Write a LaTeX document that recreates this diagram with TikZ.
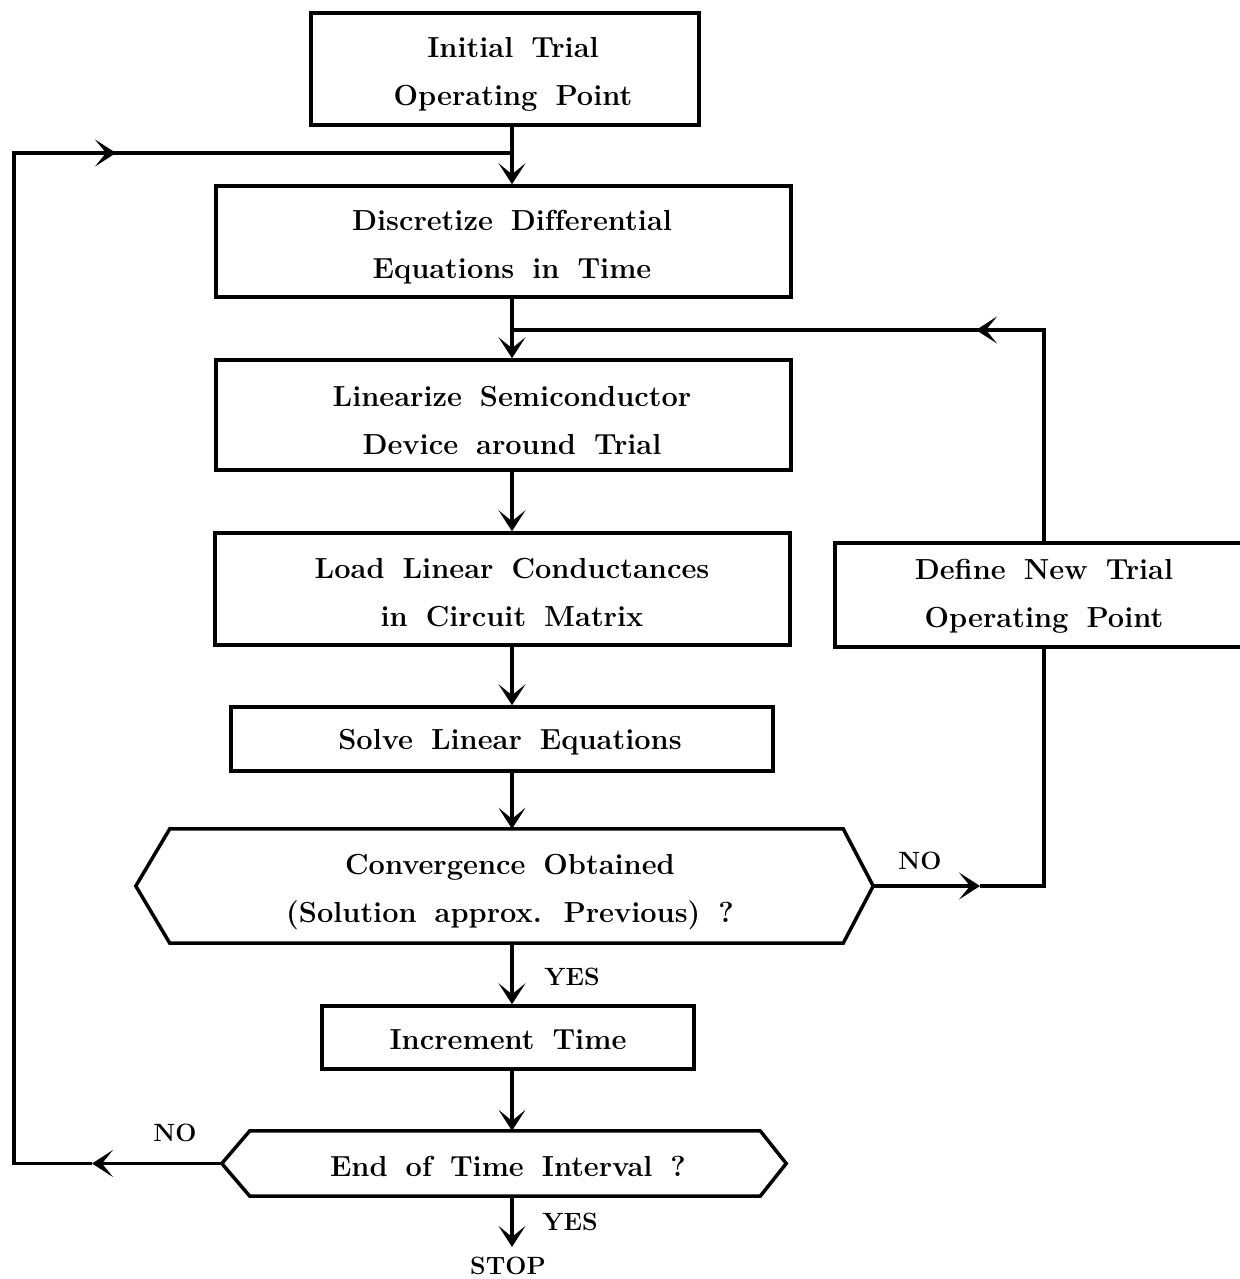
\documentclass[tikz,border=0pt]{standalone}
\usetikzlibrary{arrows.meta,shapes.geometric}
\newcommand\mainfnt{\fontsize{29}{48}\selectfont\bfseries\spaceskip=18pt plus 2pt minus 2pt\relax}
\newcommand\labfnt{\fontsize{25}{30}\selectfont\bfseries}
\tikzset{
  box/.style={draw, line width=3.5pt, inner sep=0pt},
  hexbox/.style={inner sep=0pt},
  txt/.style={align=center, inner sep=0pt, font=\mainfnt},
  conn/.style={line width=3.5pt},
  arr/.style={-{Stealth[length=21pt,width=27pt,inset=11pt,line width=2pt]}},
  lab/.style={font=\labfnt, inner sep=0pt},
}
\begin{document}
\begin{tikzpicture}[x=1pt,y=-1pt]
\fill[white] (0,0) rectangle (1239,1279);
\useasboundingbox (0,0) rectangle (1239,1279);

% shapes
\node[box, minimum width=388pt, minimum height=112pt] (init) at (505,69) {};
\node[box, minimum width=575pt, minimum height=111pt] (disc) at (503.5,241.5) {};
\node[box, minimum width=575pt, minimum height=110pt] (lin) at (503.5,415) {};
\node[box, minimum width=575pt, minimum height=112pt] (load) at (502.5,589) {};
\node[box, minimum width=542pt, minimum height=64pt] (solve) at (502,739) {};
\node[hexbox, minimum width=737pt, minimum height=114pt] (conv) at (504.5,886) {};
\draw[conn, line join=miter] ([xshift=34pt]conv.north west) -- ([xshift=-30pt]conv.north east) -- (conv.east)
  -- ([xshift=-30pt]conv.south east) -- ([xshift=34pt]conv.south west) -- (conv.west) -- cycle;
\node[box, minimum width=372pt, minimum height=63pt] (incr) at (508,1037.5) {};
\node[hexbox, minimum width=564pt, minimum height=65pt] (endq) at (504,1163.5) {};
\draw[conn, line join=miter] ([xshift=28pt]endq.north west) -- ([xshift=-26pt]endq.north east) -- (endq.east)
  -- ([xshift=-26pt]endq.south east) -- ([xshift=28pt]endq.south west) -- (endq.west) -- cycle;
\node[box, minimum width=418pt, minimum height=104pt] (def) at (1044,595) {};

% texts
\node[txt] (initT) at (513,74) {Initial Trial\\Operating Point};
\node[txt] (discT) at (512,247) {Discretize Dif\kern0pt ferential\\Equations in Time};
\node[txt] (linT) at (512,420) {Linearize Semiconductor\\Device around Trial};
\node[txt] (loadT) at (512,593) {Load Linear Conductances\\in Circuit Matrix};
\node[txt] (solveT) at (510,742) {Solve Linear Equations};
\node[txt] (convT) at (510,892) {Convergence Obtained\\(Solution approx. Previous) ?};
\node[txt] (incrT) at (508,1040) {Increment Time};
\node[txt] (endT) at (508,1166) {End of Time Interval ?};
\node[txt] (defT) at (1044,596) {Define New Trial\\Operating Point};

\node[lab] (stop) at (508,1266) {STOP};
\node[lab] (no1) at (920,861) {NO};
\node[lab] (no2) at (175,1133) {NO};
\node[lab] (yes1) at (572,977) {YES};
\node[lab] (yes2) at (570,1222) {YES};

\coordinate (vx) at (512,0);
\draw[conn,arr] (vx |- init.south) -- (vx |- disc.north);
\draw[conn,arr] (vx |- disc.south) -- (vx |- lin.north);
\draw[conn,arr] (vx |- lin.south) -- (vx |- load.north);
\draw[conn,arr] (vx |- load.south) -- (vx |- solve.north);
\draw[conn,arr] (vx |- solve.south) -- (vx |- conv.north);
\draw[conn,arr] (vx |- conv.south) -- (vx |- incr.north);
\draw[conn,arr] (vx |- incr.south) -- (vx |- endq.north);
\draw[conn,arr,shorten >=10pt] (vx |- endq.south) -- (vx |- stop.north);

% left loop
\coordinate (lb) at (14,1163.5);
\coordinate (lt) at (14,153);
\coordinate (la) at (92,1163.5);
\coordinate (lc) at (116,153);
\draw[conn,arr] (endq.west) -- (la);
\draw[conn,line join=miter] (la) -- (lb) -- (lt) -- (lc);
\draw[conn,arr] (lt) -- (lc);
\draw[conn] (lc) -- (vx |- lt);

% right loop
\coordinate (rb) at (1044,886);
\coordinate (rt) at (1044,330);
\coordinate (ra) at (980,886);
\coordinate (rc) at (976,330);
\draw[conn,arr] (conv.east) -- (ra);
\draw[conn,line join=miter] (ra) -- (rb) -- (def.south);
\draw[conn,line join=miter] (def.north) -- (rt) -- (rc);
\draw[conn,arr] (rt) -- (rc);
\draw[conn] (rc) -- (vx |- rt);
\end{tikzpicture}
\end{document}
